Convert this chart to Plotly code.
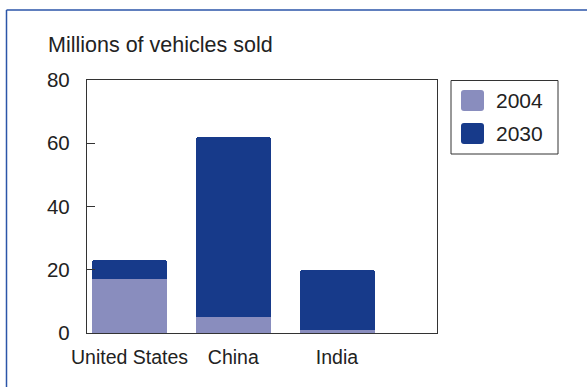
import plotly.graph_objects as go

# Vehicle sales by country, millions
countries = ["United States", "China", "India"]
sales_2004 = [17, 5, 1]
sales_2030 = [23, 62, 20]
y_ticks = [0, 20, 40, 60, 80]
series_names = ["2004", "2030"]
colors = {"2004": "#898DBE", "2030": "#173A8A"}

FONT = "Liberation Sans, Arial, Helvetica, sans-serif"
TEXT = "#222222"
AXIS = "#333333"

W, H = 587, 387
L, R, T, B = 87, 150, 80, 54
PW, PH = W - L - R, H - T - B


def px_x(x):
    return (x - L) / PW


def px_y(y):
    return (H - B - y) / PH


fig = go.Figure()
# 2030 drawn first (behind), 2004 overlaid on top
fig.add_trace(go.Bar(
    x=countries, y=sales_2030, name="2030", width=0.723,
    marker=dict(color=colors["2030"], cornerradius=3, line=dict(width=0)),
    showlegend=False,
))
fig.add_trace(go.Bar(
    x=countries, y=sales_2004, name="2004", width=0.723,
    marker=dict(color=colors["2004"], line=dict(width=0)),
    showlegend=False,
))

shapes = []
annotations = []

# Outer frame (top and left edges)
shapes.append(dict(type="line", xref="paper", yref="paper",
                   x0=px_x(6.5), x1=px_x(W + 5), y0=px_y(10), y1=px_y(10),
                   line=dict(color="#2B55A8", width=1.5)))
shapes.append(dict(type="line", xref="paper", yref="paper",
                   x0=px_x(6.5), x1=px_x(6.5), y0=px_y(10), y1=px_y(H + 5),
                   line=dict(color="#2B55A8", width=1.5)))

# Legend box
shapes.append(dict(type="rect", xref="paper", yref="paper",
                   x0=px_x(451), x1=px_x(558), y0=px_y(80.5), y1=px_y(154),
                   line=dict(color=AXIS, width=1), fillcolor="white"))
legend_rows = [("2004", 90, 111), ("2030", 123, 144)]
for name, top, bot in legend_rows:
    x0, x1 = px_x(461), px_x(484)
    y0, y1 = px_y(bot), px_y(top)
    r = 3
    rx, ry = r / PW, r / PH
    path = (f"M {x0+rx},{y0} L {x1-rx},{y0} Q {x1},{y0} {x1},{y0+ry} "
            f"L {x1},{y1-ry} Q {x1},{y1} {x1-rx},{y1} L {x0+rx},{y1} "
            f"Q {x0},{y1} {x0},{y1-ry} L {x0},{y0+ry} Q {x0},{y0} {x0+rx},{y0} Z")
    shapes.append(dict(type="path", xref="paper", yref="paper", path=path,
                       fillcolor=colors[name], line=dict(width=0)))
    annotations.append(dict(text=name, xref="paper", yref="paper",
                            x=px_x(494), y=px_y((top + bot) / 2),
                            xanchor="left", yanchor="middle", showarrow=False,
                            font=dict(family=FONT, size=21, color=TEXT)))

# Axis title above the plot
annotations.append(dict(text="Millions of vehicles sold", xref="paper", yref="paper",
                        x=px_x(46), y=px_y(45), xanchor="left", yanchor="middle",
                        showarrow=False, font=dict(family=FONT, size=21.5, color=TEXT)))

fig.update_layout(
    width=W, height=H,
    margin=dict(l=L, r=R, t=T, b=B, pad=0),
    paper_bgcolor="white", plot_bgcolor="white",
    barmode="overlay", bargap=0,
    showlegend=False,
    font=dict(family=FONT, size=20, color=TEXT),
    shapes=shapes, annotations=annotations,
    xaxis=dict(
        range=[-0.41, 2.964], showgrid=False, zeroline=False,
        showline=True, linecolor=AXIS, linewidth=1.3, mirror=True,
        ticks="", tickfont=dict(family=FONT, size=19.5, color=TEXT),
        ticklabelstandoff=6, fixedrange=True,
    ),
    yaxis=dict(
        range=[0, 80], tickvals=y_ticks, showgrid=False, zeroline=False,
        showline=True, linecolor=AXIS, linewidth=1.3, mirror=True,
        ticks="inside", ticklen=8, tickcolor=AXIS, tickwidth=1.3,
        tickfont=dict(family=FONT, size=20.5, color=TEXT),
        ticklabelstandoff=12, fixedrange=True,
    ),
)

fig.write_html("out.html")
